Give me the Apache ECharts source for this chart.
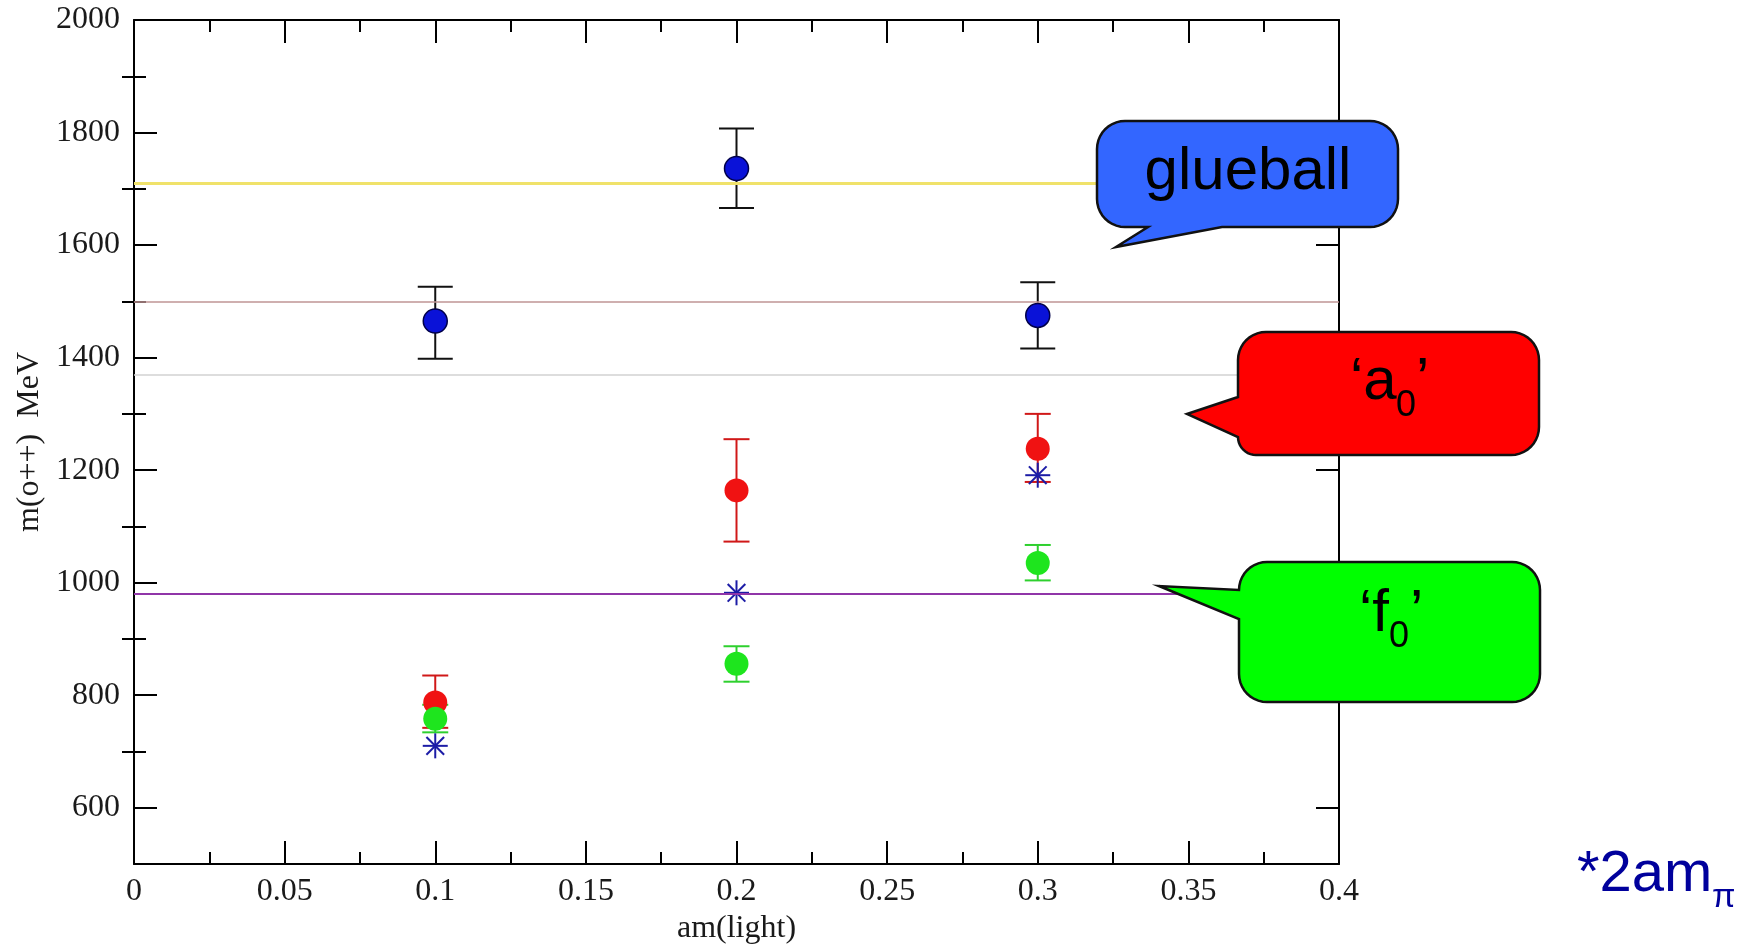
<!DOCTYPE html>
<html><head><meta charset="utf-8">
<script src="https://cdn.jsdelivr.net/npm/echarts@6/dist/echarts.min.js"></script>
<style>html,body{margin:0;padding:0;background:#fff}#chart{width:1740px;height:944px}</style>
</head><body><div id="chart"></div>
<script>
// ---------------- data ----------------
const xValues = [0.1, 0.2, 0.3];
const glueballMass = [1465, 1736, 1475];
const glueballLow  = [1398, 1666, 1416];
const glueballHigh = [1526, 1807, 1534];
const a0Mass = [787, 1164, 1238];
const a0Low  = [742, 1073, 1179];
const a0High = [835, 1255, 1300];
const f0Mass = [758, 856, 1035];
const f0Low  = [734, 824, 1004];
const f0High = [783, 887, 1067];
const twoPionMass = [710, 982, 1191];
const referenceLines = [1710, 1500, 1370, 980];
const xTickLabels = [0, 0.05, 0.1, 0.15, 0.2, 0.25, 0.3, 0.35, 0.4];
const yTickLabels = [600, 800, 1000, 1200, 1400, 1600, 1800, 2000];
const yMinorTicks = [700, 900, 1100, 1300, 1500, 1700, 1900];
// --------------------------------------

const refLineColors = ['#f0e26a', '#bf9595', '#d2d2d2', '#9035a8'];
const refLineWidths = [3, 1.5, 1.5, 2];

const SERIF = '"Liberation Serif", "DejaVu Serif", serif';
const SANS = '"Liberation Sans", Arial, sans-serif';

function pts(xs, ys) { return xs.map((x, i) => [x, ys[i]]); }
function errData(xs, lo, hi) { return xs.map((x, i) => [x, lo[i], hi[i]]); }

function errRender(color, cap, width) {
  return function (params, api) {
    const x = api.value(0);
    const pLo = api.coord([x, api.value(1)]);
    const pHi = api.coord([x, api.value(2)]);
    const st = { stroke: color, lineWidth: width };
    return {
      type: 'group',
      children: [
        { type: 'line', shape: { x1: pLo[0], y1: pLo[1], x2: pHi[0], y2: pHi[1] }, style: st },
        { type: 'line', shape: { x1: pLo[0] - cap / 2, y1: pLo[1], x2: pLo[0] + cap / 2, y2: pLo[1] }, style: st },
        { type: 'line', shape: { x1: pHi[0] - cap / 2, y1: pHi[1], x2: pHi[0] + cap / 2, y2: pHi[1] }, style: st }
      ]
    };
  };
}

function starRender(params, api) {
  const c = api.coord([api.value(0), api.value(1)]);
  const r = 12.5, d = r * Math.SQRT1_2;
  const st = { stroke: '#1c1ca6', lineWidth: 2 };
  const seg = (dx, dy) => ({ type: 'line', shape: { x1: c[0] - dx, y1: c[1] - dy, x2: c[0] + dx, y2: c[1] + dy }, style: st });
  return { type: 'group', children: [seg(r, 0), seg(0, r), seg(d, d), seg(d, -d)] };
}

// rounded speech bubble outline as polygon points; radii per corner [TR, BR, BL, TL]
function bubble(L, T, R, B, radii, tailAfterCorner, tailPts) {
  const out = [];
  const [r0, r1, r2, r3] = radii;
  const corners = [
    [R - r0, T + r0, -90, 0, r0],
    [R - r1, B - r1, 0, 90, r1],
    [L + r2, B - r2, 90, 180, r2],
    [L + r3, T + r3, 180, 270, r3]
  ];
  corners.forEach((c, k) => {
    for (let i = 0; i <= 10; i++) {
      const a = (c[2] + (c[3] - c[2]) * i / 10) * Math.PI / 180;
      out.push([c[0] + c[4] * Math.cos(a), c[1] + c[4] * Math.sin(a)]);
    }
    if (k === tailAfterCorner) tailPts.forEach(p => out.push(p));
  });
  return out;
}

const chart = echarts.init(document.getElementById('chart'), null, { renderer: 'canvas' });

const axisLineStyle = { color: '#000', width: 2 };
const tickStyle = { color: '#000', width: 2 };

const option = {
  animation: false,
  backgroundColor: '#fff',
  grid: { left: 134, right: 401, top: 20, bottom: 80, containLabel: false, outerBoundsMode: 'none' },
  xAxis: [
    {
      type: 'value', position: 'bottom', min: 0, max: 0.4, interval: 0.05,
      axisLine: { show: true, onZero: false, lineStyle: axisLineStyle },
      axisTick: { show: true, inside: true, length: 23, lineStyle: tickStyle },
      minorTick: { show: true, splitNumber: 2, length: 12, lineStyle: { color: '#000', width: 2 } },
      splitLine: { show: false },
      axisLabel: {
        show: true, margin: 12, color: '#1a1a1a', fontFamily: SERIF, fontSize: 32,
        formatter: v => { const t = xTickLabels.find(q => Math.abs(q - v) < 1e-9); return t === undefined ? '' : String(t); }
      },
      name: 'am(light)', nameLocation: 'middle', nameGap: 46,
      nameTextStyle: { fontFamily: SERIF, fontSize: 32, color: '#1a1a1a' }
    },
    {
      type: 'value', position: 'top', min: 0, max: 0.4, interval: 0.05,
      axisLine: { show: true, onZero: false, lineStyle: axisLineStyle },
      axisTick: { show: true, inside: true, length: 23, lineStyle: tickStyle },
      minorTick: { show: true, splitNumber: 2, length: 12, lineStyle: { color: '#000', width: 2 } },
      splitLine: { show: false }, axisLabel: { show: false }
    }
  ],
  yAxis: [
    {
      type: 'value', position: 'left', min: 500, max: 2000, interval: 100,
      axisLine: { show: true, onZero: false, lineStyle: axisLineStyle },
      axisTick: { show: true, inside: true, length: 23, lineStyle: tickStyle, customValues: yTickLabels },
      splitLine: { show: false },
      axisLabel: { show: true, margin: 14, color: '#1a1a1a', fontFamily: SERIF, fontSize: 32,
        customValues: yTickLabels, formatter: v => String(Math.round(v)) },
      name: 'm(o++)  MeV', nameLocation: 'middle', nameGap: 85, nameRotate: 90,
      nameTextStyle: { fontFamily: SERIF, fontSize: 32, color: '#1a1a1a' }
    },
    {
      type: 'value', position: 'left', min: 500, max: 2000, interval: 100,
      axisLine: { show: false },
      axisTick: { show: true, inside: true, length: 12, lineStyle: tickStyle, customValues: yMinorTicks },
      splitLine: { show: false }, axisLabel: { show: false }
    },
    {
      type: 'value', position: 'right', min: 500, max: 2000, interval: 100,
      axisLine: { show: true, onZero: false, lineStyle: axisLineStyle },
      axisTick: { show: true, inside: true, length: 23, lineStyle: tickStyle, customValues: yTickLabels },
      splitLine: { show: false }, axisLabel: { show: false }
    },
    {
      type: 'value', position: 'right', min: 500, max: 2000, interval: 100,
      axisLine: { show: false },
      axisTick: { show: true, inside: true, length: 12, lineStyle: tickStyle, customValues: yMinorTicks },
      splitLine: { show: false }, axisLabel: { show: false }
    }
  ],
  series: [
    {
      type: 'line', data: [], silent: true,
      markLine: {
        silent: true, symbol: ['none', 'none'], label: { show: false },
        data: referenceLines.map((v, i) => ({ yAxis: v, lineStyle: { color: refLineColors[i], width: refLineWidths[i], type: 'solid' } }))
      }
    },
    { type: 'custom', data: errData(xValues, glueballLow, glueballHigh), renderItem: errRender('#111', 35, 2), silent: true },
    { type: 'scatter', data: pts(xValues, glueballMass), symbol: 'circle', symbolSize: 24, silent: true,
      itemStyle: { color: '#0a12d8', borderColor: '#00004a', borderWidth: 1.5, opacity: 1 } },
    { type: 'custom', data: errData(xValues, a0Low, a0High), renderItem: errRender('#d01818', 26, 2), silent: true },
    { type: 'scatter', data: pts(xValues, a0Mass), symbol: 'circle', symbolSize: 24, silent: true,
      itemStyle: { color: '#f01212', opacity: 1 } },
    { type: 'custom', data: errData(xValues, f0Low, f0High), renderItem: errRender('#2ed02e', 26, 2), silent: true },
    { type: 'scatter', data: pts(xValues, f0Mass), symbol: 'circle', symbolSize: 24, silent: true,
      itemStyle: { color: '#1ee51e', opacity: 1 } },
    { type: 'custom', data: pts(xValues, twoPionMass), renderItem: starRender, silent: true }
  ],
  graphic: {
    elements: [
      { type: 'polygon', z: 100, silent: true,
        shape: { points: bubble(1097, 121, 1398, 227, [28, 28, 28, 28], 1, [[1222, 227], [1116, 247], [1148, 227]]) },
        style: { fill: '#3366ff', stroke: '#111', lineWidth: 2.5, lineJoin: 'miter' } },
      { type: 'text', z: 101, silent: true, x: 1248, y: 172,
        style: { text: 'glueball', font: '60px ' + SANS, fill: '#000', align: 'center', verticalAlign: 'middle', textAlign: 'center', textVerticalAlign: 'middle' } },

      { type: 'polygon', z: 100, silent: true,
        shape: { points: bubble(1238, 332, 1539, 455, [28, 28, 18, 28], 2, [[1187, 414], [1238, 397]]) },
        style: { fill: '#ff0000', stroke: '#111', lineWidth: 2.5, lineJoin: 'miter' } },
      { type: 'text', z: 101, silent: true, x: 1350, y: 382,
        style: { text: '\u2018a', font: '60px ' + SANS, fill: '#000', align: 'left', verticalAlign: 'middle', textAlign: 'left', textVerticalAlign: 'middle' } },
      { type: 'text', z: 101, silent: true, x: 1396, y: 406,
        style: { text: '0', font: '36px ' + SANS, fill: '#000', align: 'left', verticalAlign: 'middle', textAlign: 'left', textVerticalAlign: 'middle' } },
      { type: 'text', z: 101, silent: true, x: 1416, y: 382,
        style: { text: '\u2019', font: '60px ' + SANS, fill: '#000', align: 'left', verticalAlign: 'middle', textAlign: 'left', textVerticalAlign: 'middle' } },

      { type: 'polygon', z: 100, silent: true,
        shape: { points: bubble(1239, 562, 1540, 702, [28, 28, 28, 28], 2, [[1239, 619], [1159, 586]]) },
        style: { fill: '#00ff00', stroke: '#111', lineWidth: 2.5, lineJoin: 'miter' } },
      { type: 'text', z: 101, silent: true, x: 1359, y: 614,
        style: { text: '\u2018f', font: '60px ' + SANS, fill: '#000', align: 'left', verticalAlign: 'middle', textAlign: 'left', textVerticalAlign: 'middle' } },
      { type: 'text', z: 101, silent: true, x: 1389, y: 637,
        style: { text: '0', font: '36px ' + SANS, fill: '#000', align: 'left', verticalAlign: 'middle', textAlign: 'left', textVerticalAlign: 'middle' } },
      { type: 'text', z: 101, silent: true, x: 1410, y: 614,
        style: { text: '\u2019', font: '60px ' + SANS, fill: '#000', align: 'left', verticalAlign: 'middle', textAlign: 'left', textVerticalAlign: 'middle' } },

      { type: 'text', z: 101, silent: true, x: 1577, y: 875,
        style: { text: '*2am', font: '58px ' + SANS, fill: '#00009c', align: 'left', verticalAlign: 'middle', textAlign: 'left', textVerticalAlign: 'middle' } },
      { type: 'text', z: 101, silent: true, x: 1712, y: 898,
        style: { text: '\u03c0', font: '34px ' + SANS, fill: '#00009c', align: 'left', verticalAlign: 'middle', textAlign: 'left', textVerticalAlign: 'middle' } }
    ]
  }
};
chart.setOption(option);
</script>
</body></html>
